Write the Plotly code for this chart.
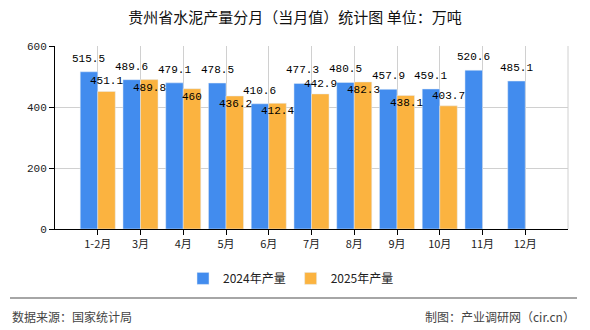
import plotly.graph_objects as go

categories = ["1-2月", "3月", "4月", "5月", "6月", "7月", "8月", "9月", "10月", "11月", "12月"]
values_2024 = [515.5, 489.6, 479.1, 478.5, 410.6, 477.3, 480.5, 457.9, 459.1, 520.6, 485.1]
values_2025 = [451.1, 489.8, 460, 436.2, 412.4, 442.9, 482.3, 438.1, 403.7]
y_ticks = [0, 200, 400, 600]
# label placement for 2025 series (moved below the bar top where it would collide)
label_below_2025 = [False, True, True, True, True, False, True, True, False]

BLUE = "#428cee"
ORANGE = "#fbb340"
CJK = "Noto Sans CJK SC"
NUM = "Liberation Mono"

fig = go.Figure()
fig.add_trace(go.Bar(name="2024年产量", x=categories, y=values_2024, marker_color=BLUE))
fig.add_trace(go.Bar(name="2025年产量", x=categories[:len(values_2025)], y=values_2025,
                     marker_color=ORANGE))

annotations = []
for c, v in zip(categories, values_2024):
    annotations.append(dict(x=c, y=v, xref="x", yref="y", text=("%g" % v), showarrow=False,
                            xanchor="center", yanchor="middle", xshift=-9, yshift=13,
                            font=dict(family=NUM, size=11, color="#000")))
for c, v, below in zip(categories, values_2025, label_below_2025):
    annotations.append(dict(x=c, y=v, xref="x", yref="y", text=("%g" % v), showarrow=False,
                            xanchor="center", yanchor="middle", xshift=9,
                            yshift=(-8 if below else 10),
                            font=dict(family=NUM, size=11, color="#000")))

annotations += [
    dict(text="数据来源：国家统计局", xref="paper", yref="paper", x=-45 / 513, y=-87 / 183,
         xanchor="left", yanchor="middle", showarrow=False,
         font=dict(family=CJK, size=12, color="#444")),
    dict(text="制图：产业调研网（cir.cn）", xref="paper", yref="paper", x=522 / 513, y=-87 / 183,
         xanchor="right", yanchor="middle", showarrow=False,
         font=dict(family=CJK, size=12, color="#444")),
]

fig.update_layout(
    width=590, height=330,
    margin=dict(l=55, r=22, t=46, b=101),
    paper_bgcolor="white", plot_bgcolor="white",
    barmode="group", bargap=0.18, bargroupgap=0,
    title=dict(text="贵州省水泥产量分月（当月值）统计图 单位：万吨", x=0.5, xanchor="center",
               y=1 - 18 / 330, yanchor="middle",
               font=dict(family=CJK, size=15, color="#111")),
    legend=dict(orientation="h", x=(291 - 55) / 513, xanchor="center", y=-0.27, yanchor="middle",
                font=dict(family=CJK, size=12, color="#222"),
                itemwidth=30, traceorder="normal"),
    xaxis=dict(
        type="category", range=[-1, 11], showgrid=True, gridcolor="#d0d0d0", gridwidth=1,
        showline=True, linecolor="#000", linewidth=1, ticks="outside", ticklen=5,
        tickcolor="#000", tickfont=dict(family=CJK, size=11, color="#222"),
    ),
    yaxis=dict(
        range=[0, 600], tickvals=y_ticks, showgrid=True, gridcolor="#d0d0d0",
        showline=True, linecolor="#000", linewidth=1, ticks="outside", ticklen=5,
        tickcolor="#000", tickfont=dict(family=NUM, size=11, color="#222"), zeroline=False,
    ),
    shapes=[
        dict(type="line", xref="paper", yref="paper", x0=1, x1=1, y0=0, y1=1,
             line=dict(color="#d0d0d0", width=1)),
        dict(type="line", xref="paper", yref="paper", x0=-45 / 513, x1=522 / 513,
             y0=-69 / 183, y1=-69 / 183, line=dict(color="#888", width=1.5)),
    ],
    annotations=annotations,
)

fig.write_html("out.html")
